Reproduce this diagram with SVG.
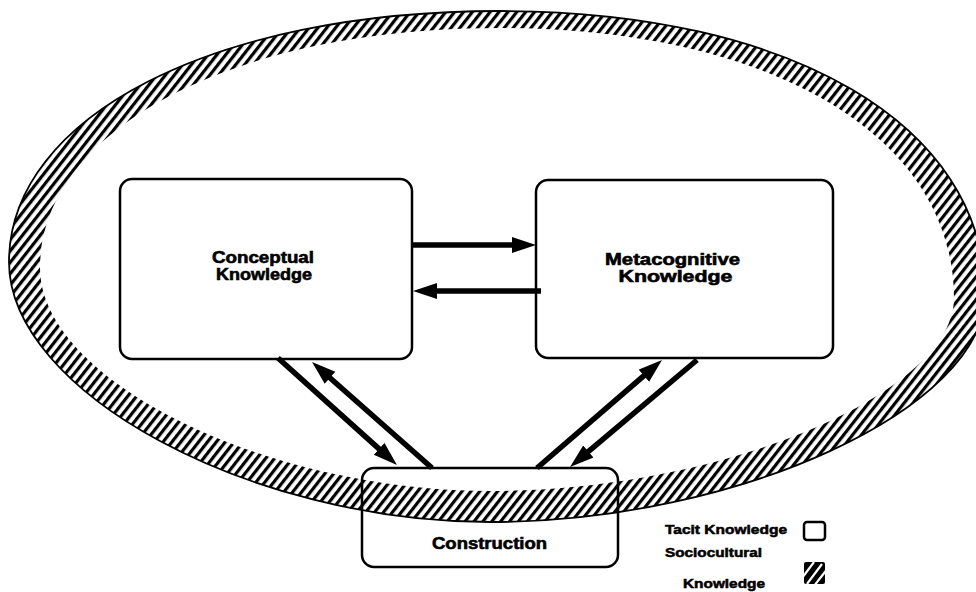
<svg xmlns="http://www.w3.org/2000/svg" width="976" height="592" viewBox="0 0 976 592">
  <style>
    .box { fill: #fff; stroke: #000; stroke-width: 2.5; }
    .lbl { font-family: "Liberation Sans", Arial, sans-serif; font-weight: bold; font-size: 16px; fill: #000; stroke: #000; stroke-width: 0.6; text-anchor: middle; }
    .leg { font-family: "Liberation Sans", Arial, sans-serif; font-weight: bold; font-size: 12px; fill: #000; stroke: #000; stroke-width: 0.5; }
    .conn { stroke: #000; stroke-width: 5.5; fill: none; marker-end: url(#arrow); }
  </style>
  <defs>
    <pattern id="hatch" patternUnits="userSpaceOnUse" width="7" height="7" patternTransform="rotate(38)">
      <rect x="0" y="0" width="3.2" height="7" fill="#000"/>
    </pattern>
    <marker id="arrow" markerUnits="userSpaceOnUse" markerWidth="26" markerHeight="18" refX="4" refY="8" orient="auto">
      <path d="M0,0 L24,8 L0,16 Z" fill="#000"/>
    </marker>
    <clipPath id="legclip"><rect x="804" y="562" width="21" height="22"/></clipPath>
  </defs>
  <rect width="976" height="592" fill="#fff"/>

  <g id="node-construction">
    <rect class="box" x="362" y="468" width="256" height="99" rx="12"/>
    <text class="lbl" x="489.5" y="549" textLength="115" lengthAdjust="spacingAndGlyphs">Construction</text>
  </g>

  <g id="sociocultural-band">
    <path fill="url(#hatch)" fill-rule="evenodd" d="M9,262 C9,116 215,11 500,11 C791,11 985,125 985,295 C985,408 738,522 490,522 C250,522 9,392 9,262 Z M40,268 C40,129 233,28 500,28 C771,28 954,136 954,298 C954,394 721,491 490,491 C265,491 40,380 40,268 Z"/>
    <path fill="none" stroke="#000" stroke-width="1.8" d="M9,262 C9,116 215,11 500,11 C791,11 985,125 985,295 C985,408 738,522 490,522 C250,522 9,392 9,262 Z"/>
  </g>

  <g id="node-conceptual">
    <rect class="box" x="120" y="179" width="292" height="180" rx="12"/>
    <text class="lbl" x="263" y="262.5" textLength="102" lengthAdjust="spacingAndGlyphs">Conceptual</text>
    <text class="lbl" x="264" y="280" textLength="96" lengthAdjust="spacingAndGlyphs">Knowledge</text>
  </g>

  <g id="node-metacognitive">
    <rect class="box" x="536" y="180" width="297" height="178" rx="12"/>
    <text class="lbl" x="672.5" y="264.5" textLength="135" lengthAdjust="spacingAndGlyphs">Metacognitive</text>
    <text class="lbl" x="675.5" y="282" textLength="114" lengthAdjust="spacingAndGlyphs">Knowledge</text>
  </g>

  <g id="connectors">
    <line class="conn" x1="411" y1="245" x2="516" y2="245"/>
    <line class="conn" x1="541" y1="291" x2="433" y2="291"/>
    <line class="conn" x1="278" y1="358" x2="382.1" y2="451.6"/>
    <line class="conn" x1="432" y1="468" x2="327" y2="375.2"/>
    <line class="conn" x1="537" y1="468" x2="646.9" y2="373.1"/>
    <line class="conn" x1="697" y1="360" x2="585.3" y2="454.1"/>
  </g>

  <g id="legend">
    <text class="leg" x="665" y="534" textLength="122" lengthAdjust="spacingAndGlyphs">Tacit Knowledge</text>
    <rect x="804" y="522" width="21" height="18" rx="3" fill="#fff" stroke="#000" stroke-width="2.5"/>
    <text class="leg" x="665" y="557" textLength="97" lengthAdjust="spacingAndGlyphs">Sociocultural</text>
    <text class="leg" x="683" y="587.5" textLength="82" lengthAdjust="spacingAndGlyphs">Knowledge</text>
    <rect x="804" y="562" width="21" height="22" rx="2" fill="#000"/>
    <g clip-path="url(#legclip)" stroke="#fff" stroke-width="2.2">
      <line x1="802" y1="578" x2="814" y2="562"/>
      <line x1="807" y1="584" x2="822" y2="564"/>
      <line x1="814" y1="586" x2="828" y2="568"/>
    </g>
  </g>
</svg>
